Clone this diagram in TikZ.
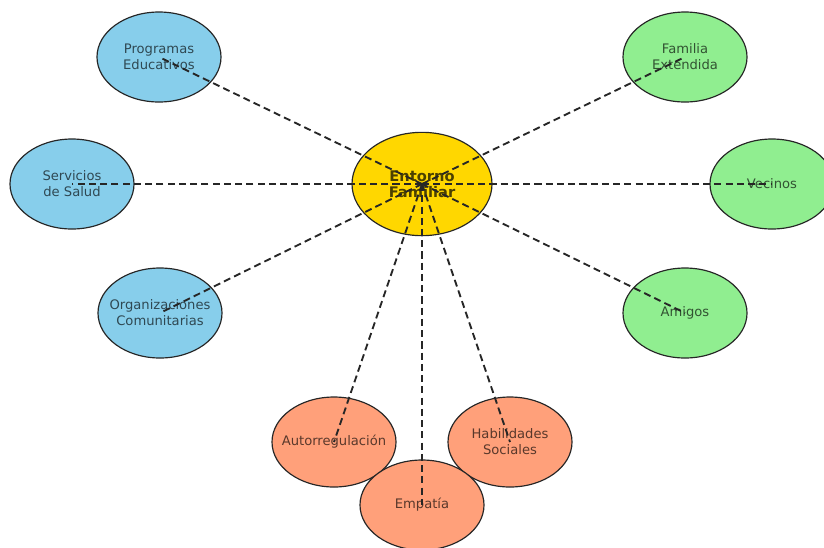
\documentclass[tikz,border=0pt]{standalone}
\usepackage{fontspec}
\setmainfont{DejaVu Sans}
\usetikzlibrary{shapes.geometric}

\definecolor{azul}{HTML}{87CEEB}
\definecolor{verde}{HTML}{90EE90}
\definecolor{salmon}{HTML}{FFA07A}
\definecolor{oro}{HTML}{FFD700}

\tikzset{
	elipse/.style={ellipse, draw=black!85, line width=1pt, inner xsep=-1.2cm, inner ysep=0pt,
		minimum width=3.72cm, minimum height=2.7cm, align=center,
		font=\fontsize{11.2}{13.5}\selectfont},
	externo/.style={elipse, fill=#1, text=#1!35!black},
	enlace/.style={line width=1.6pt, black!85, dash pattern=on 6pt off 3.6pt}
}

\begin{document}
\begin{tikzpicture}[x=0.03cm,y=-0.03cm]
				\useasboundingbox (0,0) rectangle (824,547);
				\node[externo=azul] (prog) at (159,57) {Programas\\Educativos};
				\node[externo=azul] (salud) at (72,184) {Servicios\\de Salud};
				\node[externo=azul] (org) at (160,313) {Organizaciones\\Comunitarias};
				\node[externo=verde] (fam) at (685,57) {Familia\\Extendida};
				\node[externo=verde] (vec) at (772,184) {Vecinos};
				\node[externo=verde] (ami) at (685,313) {Amigos};
				\node[externo=salmon] (auto) at (334,442) {Autorregulación};
				\node[externo=salmon] (hab) at (510,442) {Habilidades\\Sociales};
				\node[externo=salmon] (emp) at (422,505) {Empatía};
				\node[elipse, fill=oro, text=oro!30!black, minimum width=4.2cm, minimum height=3.1cm,
					font=\fontsize{12.5}{13.5}\selectfont\bfseries] (ent) at (422,184) {Entorno\\Familiar};
				\foreach \n in {prog,salud,org,fam,vec,ami,auto,hab,emp}
					\draw[enlace] (ent.center) -- (\n.center);
\end{tikzpicture}
\end{document}
